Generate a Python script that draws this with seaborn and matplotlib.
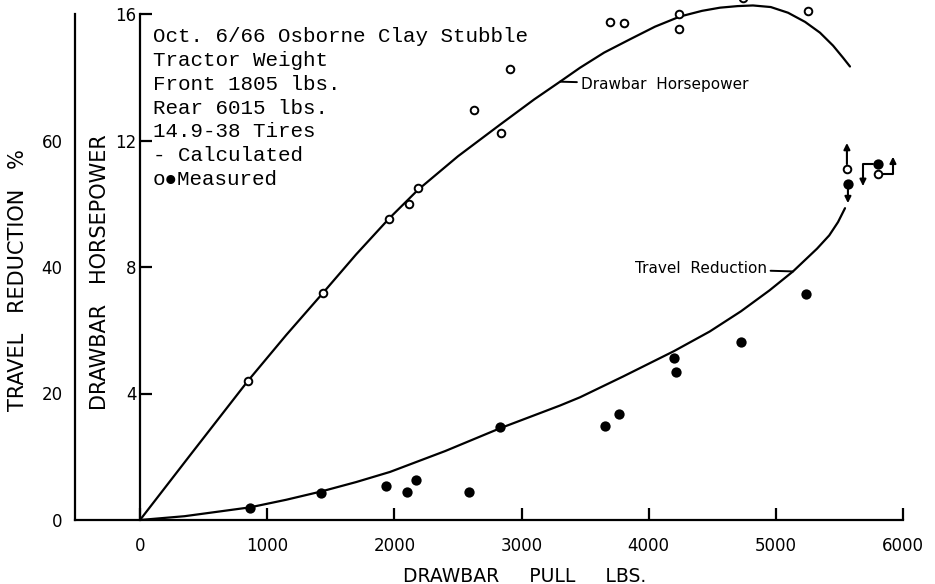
import matplotlib
matplotlib.use("Agg")
import matplotlib.pyplot as plt
from matplotlib.transforms import ScaledTranslation
import seaborn as sns
import pandas as pd

# ---------------- data ----------------
hp_pull = [849, 1439, 1958, 2115, 2186, 2626, 2839, 2909, 3696, 3806, 4238, 4238, 4742, 5253, 5559, 5803]
hp_meas = [4.40, 7.18, 9.53, 10.0, 10.5, 12.97, 12.25, 14.27, 15.76, 15.70, 16.01, 15.54, 16.5, 16.08, 11.1, 10.95]

tr_pull = [865, 1423, 1934, 2100, 2170, 2587, 2831, 3657, 3767, 4199, 4215, 4726, 5237, 5567, 5803]
tr_meas = [1.9, 4.3, 5.4, 4.4, 6.3, 4.4, 14.7, 14.9, 16.8, 25.6, 23.4, 28.1, 35.7, 53.1, 56.3]

hp_calc_pull = [0, 400, 849, 1150, 1439, 1700, 1958, 2186, 2500, 2831, 3100, 3303, 3460,
                3650, 3853, 4050, 4246, 4420, 4561, 4700, 4820, 4960, 5096, 5230, 5347, 5450, 5528, 5583]
hp_calc = [0, 2.08, 4.40, 5.85, 7.18, 8.40, 9.53, 10.44, 11.50, 12.5, 13.3, 13.86, 14.3,
           14.78, 15.2, 15.6, 15.92, 16.10, 16.20, 16.25, 16.27, 16.22, 16.04, 15.75, 15.41, 15.0, 14.62, 14.34]

tr_calc_pull = [0, 350, 865, 1150, 1423, 1700, 1966, 2400, 2831, 3303, 3460, 3800, 4199,
                4480, 4726, 4950, 5135, 5324, 5420, 5489, 5544]
tr_calc = [0, 0.6, 2.0, 3.2, 4.5, 6.0, 7.6, 10.9, 14.5, 18.1, 19.4, 22.7, 26.7,
           29.8, 33.0, 36.3, 39.3, 42.9, 45.0, 47.1, 49.3]

x_ticks = [0, 1000, 2000, 3000, 4000, 5000, 6000]
tr_ticks = [0, 20, 40, 60]
hp_ticks = [4, 8, 12, 16]

note_lines = ["Oct. 6/66 Osborne Clay Stubble", "Tractor Weight", "Front 1805 lbs.",
              "Rear 6015 lbs.", "14.9-38 Tires", "- Calculated", "o\u25cfMeasured"]

# ---------------- figure layout ----------------
sns.set_theme(style="white")
plt.rcParams["font.family"] = ["DejaVu Sans"]
for k in ("text.color", "axes.labelcolor", "xtick.color", "ytick.color", "axes.edgecolor"):
    plt.rcParams[k] = "black"

W, H = 935, 584
fig = plt.figure(figsize=(W / 100, H / 100), dpi=100)
px = 0.72  # points per pixel at 100 dpi

y_bot = (H - 520) / H
y_h = (520 - 14) / H
ax = fig.add_axes([75 / W, y_bot, (903 - 75) / W, y_h])          # travel reduction axes
axh = fig.add_axes([140 / W, y_bot, (903 - 140) / W, y_h])       # horsepower axes
axh.patch.set_visible(False)

x0 = -6000 * (140 - 75) / (903 - 140)
ax.set_xlim(x0, 6000)
ax.set_ylim(0, 80)
axh.set_xlim(0, 6000)
axh.set_ylim(0, 16)

lw = 1.6
for a in (ax, axh):
    for s in a.spines.values():
        s.set_linewidth(lw)
        s.set_color("black")
ax.spines["top"].set_visible(False)
ax.spines["right"].set_visible(False)
for s in ("top", "right", "bottom"):
    axh.spines[s].set_visible(False)

ax.set_xticks(x_ticks)
ax.set_xticklabels([str(v) for v in x_ticks])
ax.set_yticks(tr_ticks)
ax.set_yticklabels([str(v) for v in tr_ticks])
ax.tick_params(axis="x", direction="in", length=12 * px, width=lw, pad=12, labelsize=12,
               bottom=True)
ax.tick_params(axis="y", length=0, pad=9, labelsize=12, left=True)

axh.set_xticks([])
axh.set_yticks(hp_ticks)
axh.set_yticklabels([str(v) for v in hp_ticks])
axh.tick_params(axis="y", direction="in", length=12 * px, width=lw, pad=2.5, labelsize=12,
                left=True)

# ---------------- calculated curves ----------------
df_hp_c = pd.DataFrame({"pull": hp_calc_pull, "hp": hp_calc})
df_tr_c = pd.DataFrame({"pull": tr_calc_pull, "tr": tr_calc})
sns.lineplot(data=df_hp_c, x="pull", y="hp", ax=axh, color="black", lw=lw, sort=False,
             clip_on=False)
sns.lineplot(data=df_tr_c, x="pull", y="tr", ax=ax, color="black", lw=lw, sort=False)

# ---------------- measured points ----------------
df_hp = pd.DataFrame({"pull": hp_pull, "hp": hp_meas})
df_tr = pd.DataFrame({"pull": tr_pull, "tr": tr_meas})
sns.scatterplot(data=df_hp, x="pull", y="hp", ax=axh, marker="o", s=30, facecolor="white",
                edgecolor="black", linewidth=1.4, clip_on=False, zorder=5)
sns.scatterplot(data=df_tr, x="pull", y="tr", ax=ax, marker="o", s=55, color="black",
                edgecolor="black", linewidth=0, zorder=5)
for a in (ax, axh):
    a.set_xlabel("")
    a.set_ylabel("")

# ---------------- arrows on the last points ----------------
def offset_tr(a, dx, dy):
    return a.transData + ScaledTranslation(dx * px / 72, dy * px / 72, fig.dpi_scale_trans)

aprops = dict(arrowstyle="-|>", color="black", lw=1.5, mutation_scale=9, shrinkB=0)

axh.annotate("", xy=(hp_pull[-2], hp_meas[-2]), xycoords=offset_tr(axh, 0, 26),
             xytext=(hp_pull[-2], hp_meas[-2]), textcoords="data",
             arrowprops=dict(aprops, shrinkA=3.5))
ax.annotate("", xy=(tr_pull[-2], tr_meas[-2]), xycoords=offset_tr(ax, 0, -19),
            xytext=(tr_pull[-2], tr_meas[-2]), textcoords="data",
            arrowprops=dict(aprops, shrinkA=3.5))
ax.annotate("", xy=(tr_pull[-1], tr_meas[-1]), xycoords=offset_tr(ax, -15, -22),
            xytext=(tr_pull[-1], tr_meas[-1]), textcoords="data",
            arrowprops=dict(aprops, shrinkA=3.5, connectionstyle="angle,angleA=0,angleB=90,rad=0"))
axh.annotate("", xy=(hp_pull[-1], hp_meas[-1]), xycoords=offset_tr(axh, 15, 17),
             xytext=(hp_pull[-1], hp_meas[-1]), textcoords="data",
             arrowprops=dict(aprops, shrinkA=3.5, connectionstyle="angle,angleA=0,angleB=90,rad=0"))

# ---------------- curve labels ----------------
axh.annotate("Drawbar  Horsepower", xy=(hp_calc_pull[11], hp_calc[11]), xytext=(15, -2),
             textcoords="offset points", ha="left", va="center", fontsize=11,
             arrowprops=dict(arrowstyle="-", color="black", lw=1.4, shrinkA=0.5, shrinkB=0))
ax.annotate("Travel  Reduction", xy=(tr_calc_pull[16], tr_calc[16]), xytext=(-19, 2),
            textcoords="offset points", ha="right", va="center", fontsize=11,
            arrowprops=dict(arrowstyle="-", color="black", lw=1.4, shrinkA=0.5, shrinkB=0))

# ---------------- notes ----------------
fig.text(153 / W, (H - 108) / H, "\n".join(note_lines), ha="left", va="center",
         fontsize=15, linespacing=1.32,
         family=["Liberation Mono", "DejaVu Sans Mono", "DejaVu Sans"])

# ---------------- axis titles ----------------
fig.text(18 / W, (H - 280) / H, "TRAVEL   REDUCTION   %", rotation=90, ha="center",
         va="center", fontsize=15)
fig.text(100 / W, (H - 272) / H, "DRAWBAR   HORSEPOWER", rotation=90, ha="center",
         va="center", fontsize=15)
fig.text(525 / W, (H - 576) / H, "DRAWBAR     PULL     LBS.", ha="center", va="center",
         fontsize=13.5)

fig.savefig("out.png", dpi=100)
